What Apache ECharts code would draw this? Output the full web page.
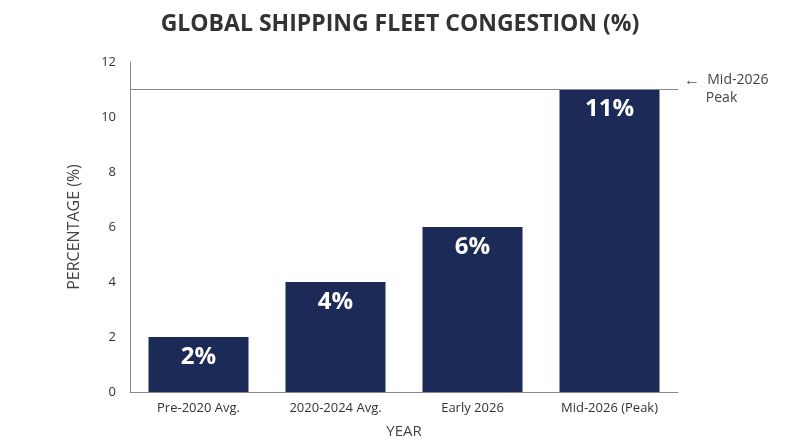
<!DOCTYPE html>
<html><head><meta charset="utf-8">
<script src="https://cdn.jsdelivr.net/npm/echarts@6/dist/echarts.min.js"></script>
<style>html,body{margin:0;padding:0;background:#fff}#chart{width:800px;height:447px}</style>
</head><body><div id="chart"></div>
<script>
var categories = ['Pre-2020 Avg.', '2020-2024 Avg.', 'Early 2026', 'Mid-2026 (Peak)'];
var values = [2, 4, 6, 11];
var peakValue = 11;
var peakLabel = 'Mid-2026\nPeak';

var chart = echarts.init(document.getElementById('chart'));
chart.setOption({
    title: {
        text: 'GLOBAL SHIPPING FLEET CONGESTION (%)',
        left: 'center', top: 8,
        textStyle: {fontFamily: 'Open Sans', fontWeight: 'bold', fontSize: 23, color: '#333'}
    },
    grid: {left: 130, right: 122, top: 62, bottom: 55},
    xAxis: {
        type: 'category', data: categories,
        name: 'YEAR', nameLocation: 'middle', nameGap: 32,
        nameTextStyle: {fontFamily: 'Open Sans', fontSize: 15, color: '#444'},
        axisLine: {lineStyle: {color: '#888'}},
        axisTick: {show: false},
        axisLabel: {fontFamily: 'Open Sans', fontSize: 13, color: '#333', margin: 10}
    },
    yAxis: {
        type: 'value', min: 0, max: 12, interval: 2,
        name: 'PERCENTAGE (%)', nameLocation: 'middle', nameGap: 48,
        nameTextStyle: {fontFamily: 'Open Sans', fontSize: 16, color: '#444'},
        axisLine: {show: true, lineStyle: {color: '#888'}},
        axisTick: {show: false},
        splitLine: {show: false},
        axisLabel: {fontFamily: 'Open Sans', fontSize: 13, color: '#333', margin: 14}
    },
    series: [{
        type: 'bar', data: values, barWidth: '73%',
        itemStyle: {color: '#1b2a56'},
        label: {
            show: true, position: 'insideTop', distance: 8,
            formatter: '{c}%', color: '#fff',
            fontFamily: 'Open Sans', fontWeight: 'bold', fontSize: 24
        },
        markLine: {
            silent: true, symbol: 'none',
            lineStyle: {color: '#888', type: 'solid', width: 1},
            data: [{yAxis: peakValue}],
            label: {
                position: 'end', distance: 6,
                formatter: '{a|←}  ' + peakLabel.replace('\n', '\n      '),
                fontFamily: 'Open Sans', fontSize: 14, color: '#444', lineHeight: 18,
                rich: {a: {fontSize: 16, color: '#555'}}
            }
        }
    }]
});
</script></body></html>
